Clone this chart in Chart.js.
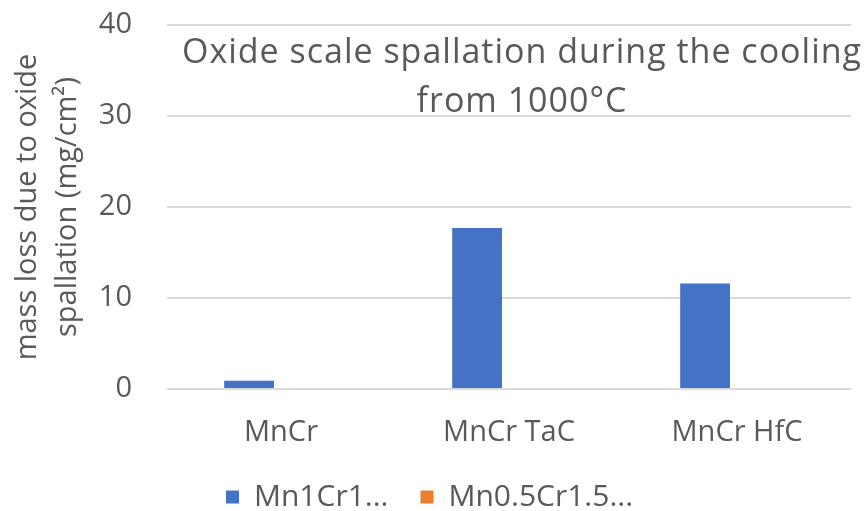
<!DOCTYPE html>
<html>
<head>
<meta charset="utf-8">
<script src="https://cdn.jsdelivr.net/npm/chart.js@4/dist/chart.umd.min.js"></script>
<style>
  html, body { margin: 0; padding: 0; background: #fff; }
  #wrap { width: 868px; height: 511px; }
</style>
</head>
<body>
<div id="wrap"><canvas id="chart" width="868" height="511"></canvas></div>
<script>
const categories = ["MnCr", "MnCr TaC", "MnCr HfC"];
const seriesNames = ["Mn1Cr1...", "Mn0.5Cr1.5..."];
const mn1cr1 = [0.9, 17.7, 11.6];
const mn05cr15 = [0, 0, 0];
const yTicks = [0, 10, 20, 30, 40];
const titleLines = ["Oxide scale spallation during the cooling", "from 1000°C"];
const yTitle = ["mass loss due to oxide", "spallation (mg/cm²)"];

const textColor = "#595959";
const fontFamily = "'Open Sans', sans-serif";

// title sits inside the plot, over the gridlines, like the Excel original
const insideTitle = {
	id: "insideTitle",
	afterDatasetsDraw(chart) {
		const ctx = chart.ctx;
		const area = chart.chartArea;
		ctx.save();
		ctx.fillStyle = textColor;
		ctx.font = "34px " + fontFamily;
		ctx.letterSpacing = "1px";
		ctx.textAlign = "center";
		ctx.textBaseline = "alphabetic";
		const cx = area.left + area.width * 0.519;
		titleLines.forEach((line, i) => {
			ctx.fillText(line, cx, area.top + 38 + i * 49);
		});
		ctx.restore();
	}
};

const ctx = document.getElementById("chart").getContext("2d");
new Chart(ctx, {
	type: "bar",
	data: {
		labels: categories,
		datasets: [
			{ label: seriesNames[0], data: mn1cr1, backgroundColor: "#4472C4" },
			{ label: seriesNames[1], data: mn05cr15, backgroundColor: "#ED7D31" }
		]
	},
	options: {
		responsive: false,
		animation: false,
		layout: { padding: { left: 8, right: 17, top: 25, bottom: -11 } },
		datasets: { bar: { categoryPercentage: 0.56, barPercentage: 0.78 } },
		plugins: {
			legend: {
				position: "bottom",
				labels: {
					color: textColor,
					font: { family: fontFamily, size: 30 },
					boxWidth: 13,
					boxHeight: 13,
					padding: 32
				}
			},
			tooltip: { enabled: false }
		},
		scales: {
			x: {
				afterFit(scale) {
					scale.height = 61;
				},
				grid: { display: false, drawTicks: false },
				border: { display: false },
				ticks: { color: textColor, font: { family: fontFamily, size: 29 }, padding: 26 }
			},
			y: {
				min: 0,
				max: 40,
				afterBuildTicks(scale) {
					scale.ticks = yTicks.map(v => ({ value: v }));
				},
				afterFit(scale) {
					scale.width = 159;
					scale.paddingTop = 0;
					scale.paddingBottom = 0;
				},
				grid: { color: "#D9D9D9", lineWidth: 2, drawTicks: false },
				border: { display: false },
				ticks: { color: textColor, font: { family: fontFamily, size: 29 }, padding: 35 },
				title: {
					display: true,
					text: yTitle,
					color: textColor,
					font: { family: fontFamily, size: 29, lineHeight: 1.38 },
					padding: 0
				}
			}
		}
	},
	plugins: [insideTitle]
});
</script>
</body>
</html>
